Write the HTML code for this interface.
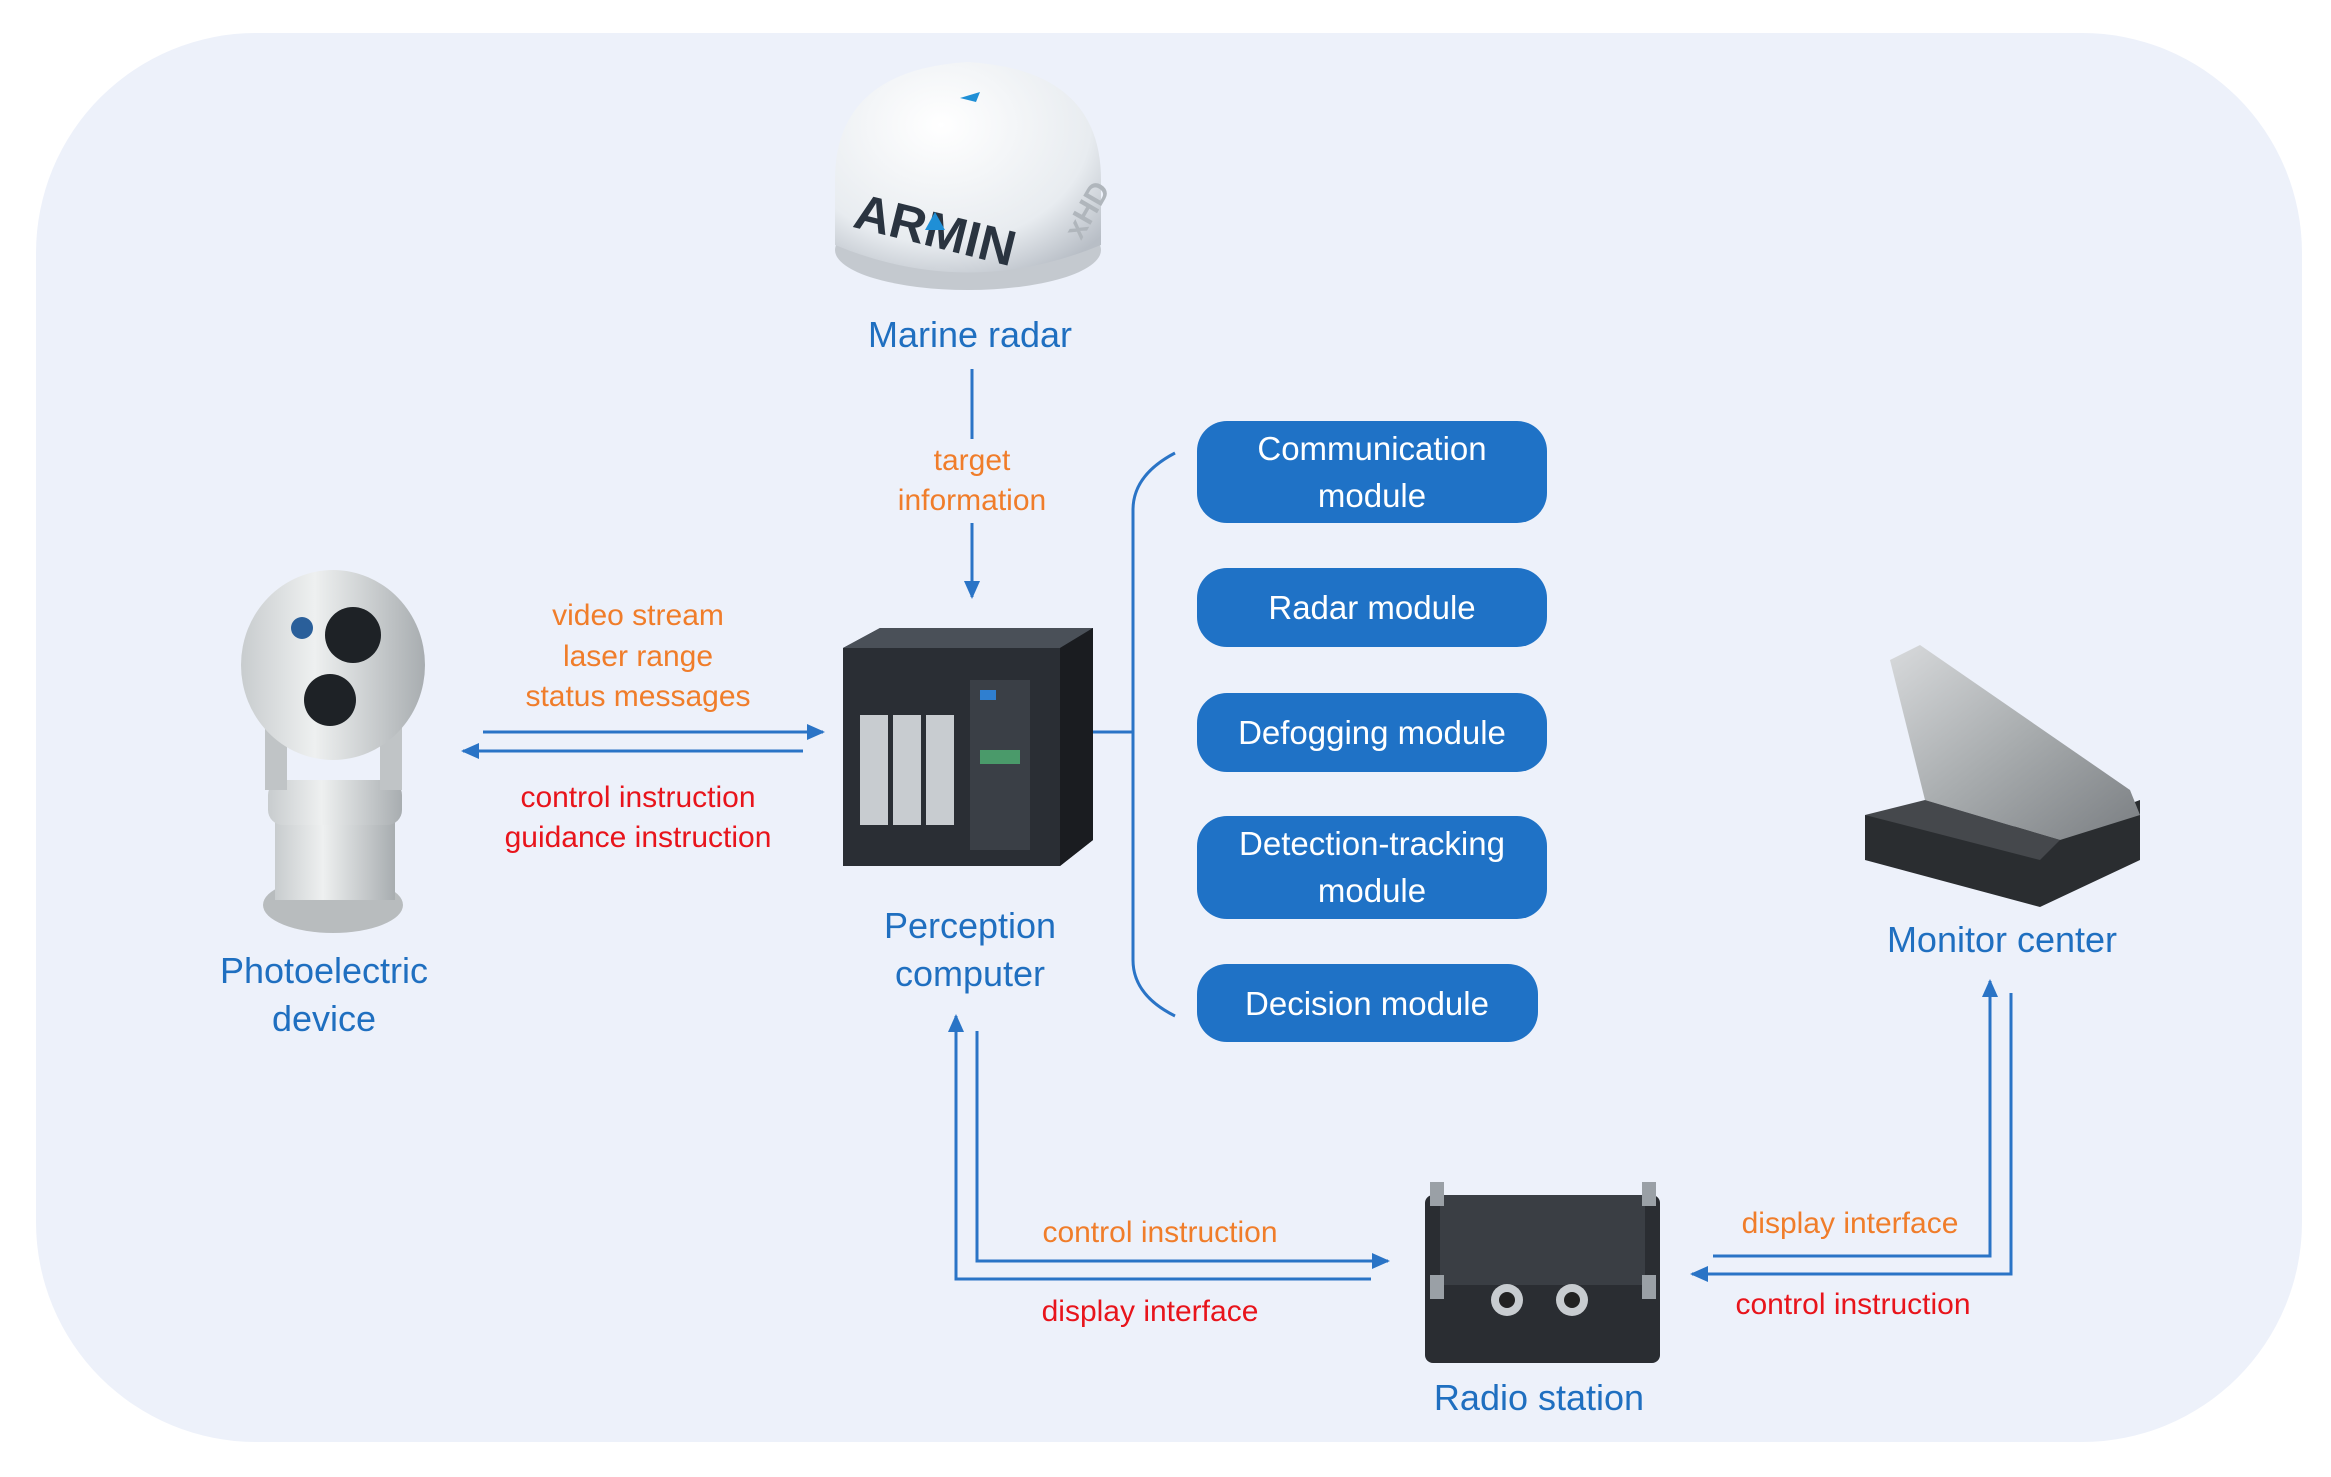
<!DOCTYPE html>
<html><head><meta charset="utf-8"><style>
html,body{margin:0;padding:0;background:#fff}
svg{display:block}
text{font-family:"Liberation Sans",sans-serif}
</style></head><body>
<svg width="2331" height="1477" viewBox="0 0 2331 1477" xmlns="http://www.w3.org/2000/svg">
<defs>
<marker id="ar" markerWidth="18" markerHeight="16" refX="16" refY="8" orient="auto" markerUnits="userSpaceOnUse"><path d="M0,0 L18,8 L0,16 z" fill="#2a74c6"/></marker>
<radialGradient id="dome" cx="0.4" cy="0.3" r="0.8"><stop offset="0" stop-color="#ffffff"/><stop offset="0.7" stop-color="#e8ecf0"/><stop offset="1" stop-color="#b8bec6"/></radialGradient>
<linearGradient id="cam" x1="0" x2="1"><stop offset="0" stop-color="#c8ccce"/><stop offset="0.4" stop-color="#eef0f0"/><stop offset="1" stop-color="#a8adb0"/></linearGradient>
<linearGradient id="lid" x1="0" x2="1" y1="0" y2="1"><stop offset="0" stop-color="#d8dadc"/><stop offset="0.5" stop-color="#a8acae"/><stop offset="1" stop-color="#7a7e82"/></linearGradient>
</defs>
<rect x="36" y="33" width="2266" height="1409" rx="220" fill="#edf1fa"/>

<!-- Radar -->
<ellipse cx="968" cy="250" rx="133" ry="40" fill="#c4c9cf"/>
<path d="M835,180 Q835,70 968,62 Q1101,70 1101,180 L1101,245 Q968,300 835,245 Z" fill="url(#dome)"/>
<text x="850" y="240" font-size="50" font-weight="bold" fill="#2a3440" transform="rotate(14 905 240)">ARMIN</text>
<path d="M925,230 l10,-18 l10,18z" fill="#1f8fd6"/>
<path d="M960,98 l20,-6 l-4,10z" fill="#1f8fd6"/>
<text x="1040" y="230" font-size="30" font-weight="bold" fill="#b0b6bc" transform="rotate(-60 1070 200)">xHD</text>
<text x="970" y="347" font-size="36" fill="#1f6fc0" text-anchor="middle">Marine radar</text>

<line x1="972" y1="369" x2="972" y2="439" stroke="#2a74c6" stroke-width="3"/>
<text x="972" y="470" font-size="30" fill="#f07d2a" text-anchor="middle">target</text>
<text x="972" y="510" font-size="30" fill="#f07d2a" text-anchor="middle">information</text>
<line x1="972" y1="523" x2="972" y2="597" stroke="#2a74c6" stroke-width="3" marker-end="url(#ar)"/>

<!-- Perception computer -->
<path d="M843,648 L880,628 L1093,628 L1093,840 L1060,866 L843,866 Z" fill="#2a2e34"/>
<path d="M843,648 L880,628 L1093,628 L1060,648 Z" fill="#4a5058"/>
<path d="M1060,648 L1093,628 L1093,840 L1060,866 Z" fill="#1a1c20"/>
<rect x="860" y="715" width="28" height="110" fill="#c8ccd0"/>
<rect x="893" y="715" width="28" height="110" fill="#c8ccd0"/>
<rect x="926" y="715" width="28" height="110" fill="#c8ccd0"/>
<rect x="970" y="680" width="60" height="170" fill="#3a3f46"/>
<rect x="980" y="690" width="16" height="10" fill="#2f7fd0"/>
<rect x="980" y="750" width="40" height="14" fill="#4a9a6a"/>
<text x="970" y="938" font-size="36" fill="#1f6fc0" text-anchor="middle">Perception</text>
<text x="970" y="986" font-size="36" fill="#1f6fc0" text-anchor="middle">computer</text>

<!-- Photoelectric device -->
<ellipse cx="333" cy="905" rx="70" ry="28" fill="#b8bcbe"/>
<rect x="275" y="820" width="120" height="80" fill="url(#cam)"/>
<rect x="268" y="780" width="134" height="45" rx="15" fill="url(#cam)"/>
<rect x="265" y="700" width="22" height="90" fill="#c0c4c6"/>
<rect x="380" y="700" width="22" height="90" fill="#c0c4c6"/>
<ellipse cx="333" cy="665" rx="92" ry="95" fill="url(#cam)"/>
<circle cx="353" cy="635" r="28" fill="#1e2226"/>
<circle cx="330" cy="700" r="26" fill="#1e2226"/>
<circle cx="302" cy="628" r="11" fill="#2a5f9a"/>
<text x="324" y="983" font-size="36" fill="#1f6fc0" text-anchor="middle">Photoelectric</text>
<text x="324" y="1031" font-size="36" fill="#1f6fc0" text-anchor="middle">device</text>

<text x="638" y="625" font-size="30" fill="#f07d2a" text-anchor="middle">video stream</text>
<text x="638" y="666" font-size="30" fill="#f07d2a" text-anchor="middle">laser range</text>
<text x="638" y="706" font-size="30" fill="#f07d2a" text-anchor="middle">status messages</text>
<line x1="483" y1="732" x2="823" y2="732" stroke="#2a74c6" stroke-width="3" marker-end="url(#ar)"/>
<line x1="803" y1="751" x2="463" y2="751" stroke="#2a74c6" stroke-width="3" marker-end="url(#ar)"/>
<text x="638" y="807" font-size="30" fill="#e8141b" text-anchor="middle">control instruction</text>
<text x="638" y="847" font-size="30" fill="#e8141b" text-anchor="middle">guidance instruction</text>

<!-- bracket -->
<line x1="1093" y1="732" x2="1133" y2="732" stroke="#2a74c6" stroke-width="3"/>
<path d="M1175,453 Q1133,475 1133,510 L1133,960 Q1133,995 1175,1016" fill="none" stroke="#2a74c6" stroke-width="3"/>

<g font-size="33" fill="#fff" text-anchor="middle">
<rect x="1197" y="421" width="350" height="102" rx="30" fill="#1f72c6"/>
<text x="1372" y="460">Communication</text><text x="1372" y="507">module</text>
<rect x="1197" y="568" width="350" height="79" rx="30" fill="#1f72c6"/>
<text x="1372" y="619">Radar module</text>
<rect x="1197" y="693" width="350" height="79" rx="30" fill="#1f72c6"/>
<text x="1372" y="744">Defogging module</text>
<rect x="1197" y="816" width="350" height="103" rx="30" fill="#1f72c6"/>
<text x="1372" y="855">Detection-tracking</text><text x="1372" y="902">module</text>
<rect x="1197" y="964" width="341" height="78" rx="30" fill="#1f72c6"/>
<text x="1367" y="1015">Decision module</text>
</g>

<!-- Monitor center laptop -->
<path d="M1865,815 L2060,830 L2140,800 L2140,860 L2040,907 L1865,860 Z" fill="#2a2d30"/>
<path d="M1890,660 L1920,645 L2130,790 L2140,815 L2060,840 L1925,800 Z" fill="url(#lid)"/>
<path d="M1865,815 L1925,800 L2060,840 L2040,860 Z" fill="#45484c"/>
<text x="2002" y="952" font-size="36" fill="#1f6fc0" text-anchor="middle">Monitor center</text>

<!-- Radio station -->
<rect x="1425" y="1195" width="235" height="168" rx="8" fill="#2a2d32"/>
<rect x="1440" y="1195" width="205" height="90" fill="#3a3e44"/>
<circle cx="1507" cy="1300" r="16" fill="#c8ccd0"/><circle cx="1507" cy="1300" r="8" fill="#222"/>
<circle cx="1572" cy="1300" r="16" fill="#c8ccd0"/><circle cx="1572" cy="1300" r="8" fill="#222"/>
<rect x="1430" y="1182" width="14" height="24" fill="#9aa0a6"/><rect x="1642" y="1182" width="14" height="24" fill="#9aa0a6"/>
<rect x="1430" y="1275" width="14" height="24" fill="#9aa0a6"/><rect x="1642" y="1275" width="14" height="24" fill="#9aa0a6"/>
<text x="1539" y="1410" font-size="36" fill="#1f6fc0" text-anchor="middle">Radio station</text>

<!-- bottom left connectors -->
<polyline points="1371,1279 956,1279 956,1016" fill="none" stroke="#2a74c6" stroke-width="3" marker-end="url(#ar)"/>
<polyline points="977,1031 977,1261 1388,1261" fill="none" stroke="#2a74c6" stroke-width="3" marker-end="url(#ar)"/>
<text x="1160" y="1242" font-size="30" fill="#f07d2a" text-anchor="middle">control instruction</text>
<text x="1150" y="1321" font-size="30" fill="#e8141b" text-anchor="middle">display interface</text>

<!-- bottom right connectors -->
<polyline points="2011,993 2011,1274 1692,1274" fill="none" stroke="#2a74c6" stroke-width="3" marker-end="url(#ar)"/>
<polyline points="1713,1256 1990,1256 1990,981" fill="none" stroke="#2a74c6" stroke-width="3" marker-end="url(#ar)"/>
<text x="1850" y="1233" font-size="30" fill="#f07d2a" text-anchor="middle">display interface</text>
<text x="1853" y="1314" font-size="30" fill="#e8141b" text-anchor="middle">control instruction</text>
</svg>
</body></html>
